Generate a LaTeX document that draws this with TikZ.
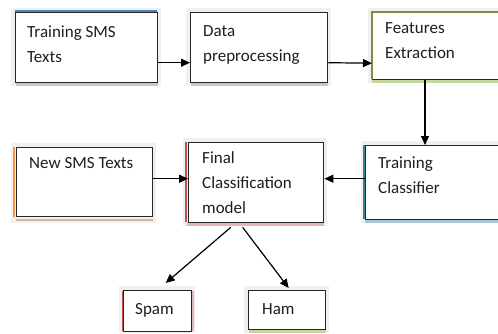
\documentclass[tikz,border=0pt]{standalone}
\usepackage{fontspec}
\setmainfont{Carlito}
\usetikzlibrary{calc,arrows.meta}
\definecolor{accblue}{HTML}{4F81BD}
\definecolor{accgreen}{HTML}{76923C}
\definecolor{accteal}{HTML}{31849B}
\definecolor{accred}{HTML}{C0504D}
\definecolor{accorange}{HTML}{F79646}
\definecolor{shblue}{HTML}{B8C7DA}
\definecolor{shgreen}{HTML}{C3D69B}
\definecolor{shteal}{HTML}{A9C4D6}
\definecolor{shred}{HTML}{E2B6B5}
\definecolor{shorange}{HTML}{D9B394}
\definecolor{shgray}{HTML}{C8C8D0}
\definecolor{txtc}{HTML}{1E1E1E}
\tikzset{
  box/.style={draw=black!85, line width=1.4pt, fill=white, anchor=north west, inner sep=0pt},
  halo/.style={fill=black!6, draw=none},
  txt/.style={anchor=base west, inner sep=0pt, font=\fontsize{17}{25}\selectfont, text=txtc, align=left},
  arr/.style={line width=1.2pt, -{Triangle[length=9pt,width=8pt]}},
  acc/.style={line width=2.2pt},
  shd/.style={line width=2.8pt}
}
\begin{document}
\begin{tikzpicture}[x=1pt,y=-1pt]
\clip (0,0) rectangle (498,333);
\fill[white] (0,0) rectangle (498,333);
% halos
\fill[halo] (11,8) rectangle (161,86);
\fill[halo] (186,8) rectangle (331,86);
\fill[halo] (368,8) rectangle (540,83);
\fill[halo] (361,141) rectangle (540,223);
\fill[halo] (183,138) rectangle (327,226);
\fill[halo] (11,143) rectangle (156,223);
\fill[halo] (119,286) rectangle (195,333);
\fill[halo] (244,286) rectangle (329,333);
% shadows
\draw[shd, shgray] (16,84.5) -- (158,84.5);
\draw[shd, shgray] (191,84.5) -- (328,84.5);
\draw[shd, shgreen] (372,81.5) -- (540,81.5);
\draw[shd, shteal] (365,221.5) -- (540,221.5);
\draw[shd, shred] (187,224.5) -- (324,224.5);
\draw[shd, shorange] (16,220) -- (153,220);
\draw[shd, shred] (193,291) -- (193,331);
\draw[shd, shgreen] (249,331.5) -- (326,331.5);
% boxes
\node[box, minimum width=142pt, minimum height=70pt] (b1) at (15,12) {};
\node[box, minimum width=137pt, minimum height=70pt] (b2) at (190,12) {};
\node[box, minimum width=170pt, minimum height=67pt] (b3) at (372,12) {};
\node[box, minimum width=177pt, minimum height=74pt] (b4) at (365,145) {};
\node[box, minimum width=135pt, minimum height=80pt] (b5) at (188,142) {};
\node[box, minimum width=136pt, minimum height=69pt] (b6) at (16,147) {};
\node[box, minimum width=68pt, minimum height=41pt] (spam) at (123,290) {};
\node[box, minimum width=77pt, minimum height=39pt] (ham) at (248,290) {};
% accents
\draw[acc, accblue] (15,11.3) -- (157,11.3);
\draw[acc, accgreen] (372.3,79) -- (372.3,12.3) -- (545,12.3);
\draw[acc, accteal] (363.8,145) -- (363.8,219);
\draw[acc, accred] (185.8,142) -- (185.8,222);
\draw[acc, accorange] (14.3,147) -- (14.3,217);
\draw[line width=1.4pt, accred] (122.3,291) -- (122.3,331);
% texts
\node[txt] (t1) at (27,37) {Training SMS};
\node[txt] (t1b) at (27,62) {Texts};
\node[txt] (t2) at (203,36) {Data};
\node[txt] (t2b) at (203,61) {preprocessing};
\node[txt] (t3) at (385,33) {Features};
\node[txt] (t3b) at (385,58) {Extraction};
\node[txt] (t4) at (378,168) {Training};
\node[txt] (t4b) at (378,193) {Classifier};
\node[txt] (t5) at (202,163) {Final};
\node[txt] (t5b) at (202,188) {Classification};
\node[txt] (t5c) at (202,213) {model};
\node[txt] (t6) at (29,168) {New SMS Texts};
\node[txt] (t7) at (135,314) {Spam};
\node[txt] (t8) at (262,314) {Ham};
% connectors
\draw[arr] ([yshift=-15pt]b1.east) -- ([yshift=-15pt]b2.west);
\draw[arr] ([yshift=-15pt]b2.east) -- ([yshift=-17pt]b3.west);
\draw[arr] (b3.south -| 425,0) -- (b4.north -| 425,0);
\draw[arr] ([yshift=4pt]b4.west) -- ([yshift=4pt]b5.east);
\draw[arr] ([yshift=3.5pt]b6.east) -- ([yshift=4pt]b5.west);
\draw[arr] ($(b5.south)+(-25.5,4)$) -- ($(spam.north)+(8,-7)$);
\draw[arr] ($(b5.south)+(-13.5,4)$) -- ($(ham.north)+(1.5,-2)$);
\end{tikzpicture}
\end{document}
